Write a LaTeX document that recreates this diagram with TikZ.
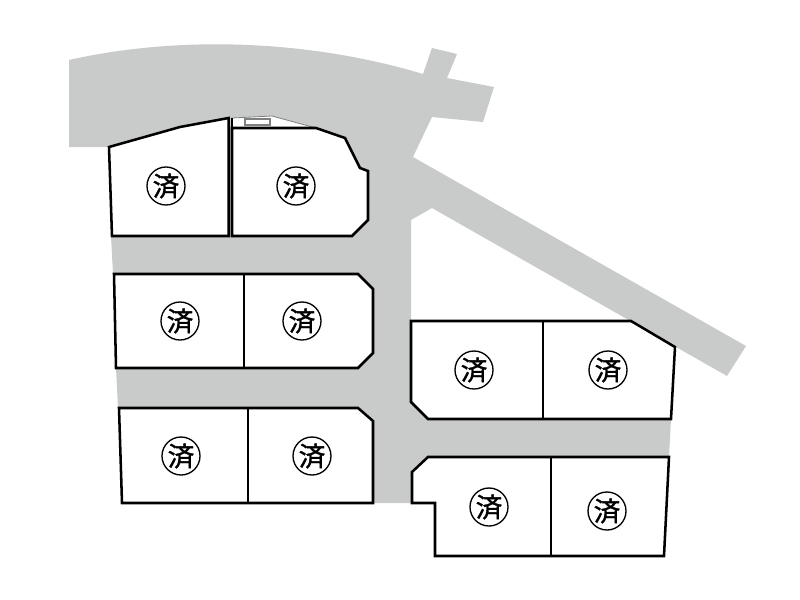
\documentclass[tikz,border=0pt]{standalone}
\usepackage{fontspec}
\newfontfamily\cjk[FakeBold=1.2]{Noto Sans CJK JP}
\definecolor{road}{HTML}{C9CACA}
\tikzset{
  lot/.style={draw=black,fill=white,line width=1.9pt,line join=miter},
  divider/.style={draw=black,line width=1.9pt},
  sold/.style={circle,draw=black,fill=white,line width=1pt,minimum size=28.5pt,inner sep=0pt,font=\cjk\fontsize{20}{20}\selectfont},
  thinpart/.style={draw=gray,fill=white,line width=0.6pt}
}
\begin{document}
\begin{tikzpicture}[x=0.75pt,y=-0.75pt]
\useasboundingbox (0,0) rectangle (800,600);
\fill[white] (0,0) rectangle (800,600);
% road
\fill[road] (69,60) .. controls (180,35) and (310,40) .. (423,74)
  -- (432,48) -- (457,54) -- (447,78) -- (494,87) -- (483,122) -- (432,117)
  -- (413,157) -- (746,346) -- (727,376) -- (432,208) -- (411,220)
  -- (411,390) -- (440,410) -- (660,410) -- (671,419) -- (669,457) -- (440,470)
  -- (412,480) -- (412,503) -- (373,503) -- (365,430) -- (130,420) -- (118,408)
  -- (116,368) -- (113,274)
  -- (111,236) -- (109,147) -- (69,147) -- cycle;
% sliver
\path[thinpart] (232,118) -- (272,116) -- (316,128) -- (232,128) -- cycle;
\draw[draw=gray,fill=white,line width=0.8pt] (245,119) rectangle (270,125);
% lots
\draw[lot] (109,147) -- (180,127) -- (228.6,118) -- (228.6,236) -- (112,236) -- cycle;
\draw[lot] (232,128) -- (316,128) -- (345,138) -- (360,168) -- (368,171) -- (368,220) -- (352,236) -- (232,236) -- cycle;
\draw[divider] (232,118) -- (232,128);
\draw[lot] (114,274) -- (358,274) -- (373,289) -- (373,353) -- (358,368) -- (116,368) -- cycle;
\draw[divider] (244,274) -- (244,368);
\draw[lot] (119,408) -- (358,408) -- (373,421) -- (373,503) -- (122,503) -- cycle;
\draw[divider] (248,408) -- (248,503);
\draw[lot] (411,321) -- (631,321) -- (675,347) -- (671,419) -- (428,419) -- (411,402) -- cycle;
\draw[divider] (543,321) -- (543,419);
\draw[lot] (428,457) -- (669,457) -- (664,556) -- (435,556) -- (435,503) -- (412,503) -- (412,472) -- cycle;
\draw[divider] (551,457) -- (551,556);
% marks
\node[sold] (a1) at (166,186) {済};
\node[sold] (a2) at (296,186) {済};
\node[sold] (b1) at (180,321) {済};
\node[sold] (b2) at (302,321) {済};
\node[sold] (c1) at (181,456) {済};
\node[sold] (c2) at (312,456) {済};
\node[sold] (d1) at (474,370) {済};
\node[sold] (d2) at (608,370) {済};
\node[sold] (e1) at (489,507) {済};
\node[sold] (e2) at (607,511) {済};
\end{tikzpicture}
\end{document}
